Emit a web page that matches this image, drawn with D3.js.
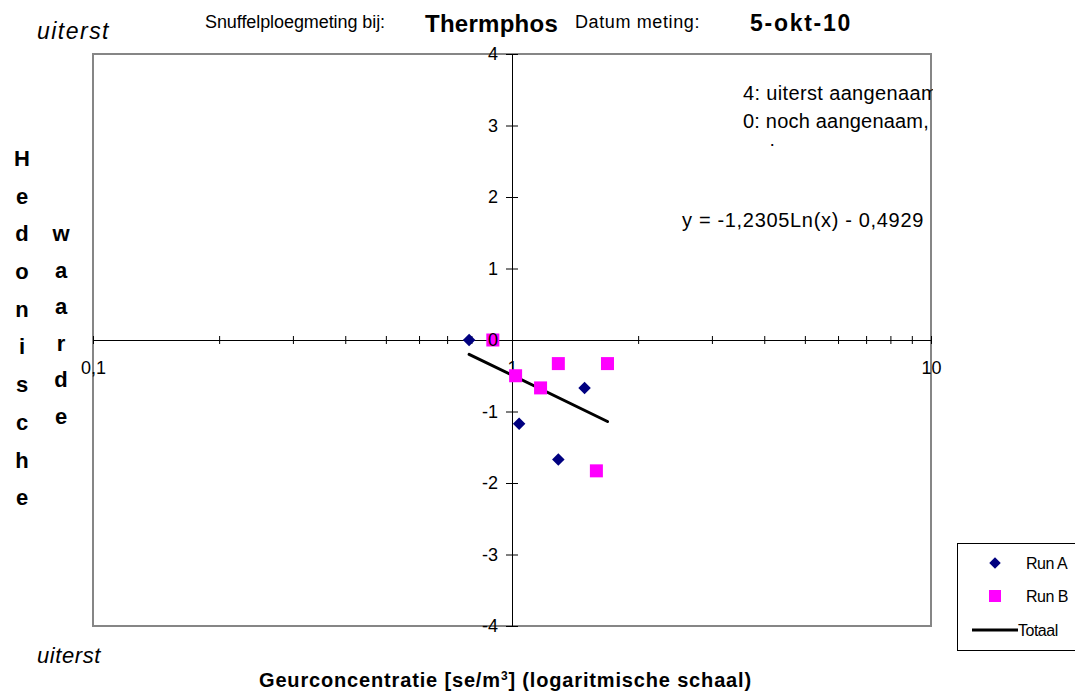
<!DOCTYPE html>
<html>
<head>
<meta charset="utf-8">
<script src="https://cdn.jsdelivr.net/npm/d3@7"></script>
<style>
  body { margin: 0; background: #fff; }
  svg { font-family: "Liberation Sans", Arial, sans-serif; }
</style>
</head>
<body>
<svg id="chart" width="1075" height="694"></svg>
<script>
// DATA
const runAX = [0.79, 1.04, 1.29, 1.49];
const runAY = [0, -1.17, -1.67, -0.67];
const runBX = [0.90, 1.02, 1.17, 1.29, 1.69, 1.59];
const runBY = [0, -0.5, -0.67, -0.33, -0.33, -1.83];
// trendline endpoints (straight on a log-x axis)
const trendX = [0.79, 1.69];
const trendY = [-0.20, -1.14];

const yTicks = [-4, -3, -2, -1, 0, 1, 2, 3, 4];
const xMajor = [0.1, 1, 10];
const xMajorLabels = ["0,1", "1", "10"];
const xMinor = [0.2, 0.3, 0.4, 0.5, 0.6, 0.7, 0.8, 0.9, 2, 3, 4, 5, 6, 7, 8, 9];
const yLabelCol1 = ["H", "e", "d", "o", "n", "i", "s", "c", "h", "e"];
const yLabelCol2 = ["w", "a", "a", "r", "d", "e"];
const legendNames = ["Run A", "Run B", "Totaal"];

var svg = d3.select("#chart");

var plotLeft = 93, plotRight = 931, plotTop = 54, plotBottom = 626;

var x = d3.scaleLog().domain([0.1, 10]).range([plotLeft, plotRight]);
var y = d3.scaleLinear().domain([-4, 4]).range([plotBottom, plotTop]);

// stretch a text to a given width with letter-spacing
function fitWidth(sel, target) {
    let node = sel.node();
    let w = node.getComputedTextLength();
    let n = node.textContent.length;
    if (n > 1) sel.style("letter-spacing", ((target - w) / n) + "px");
    return sel;
}

// plot frame
svg.append("rect")
    .attr("x", plotLeft).attr("y", plotTop)
    .attr("width", plotRight - plotLeft).attr("height", plotBottom - plotTop)
    .attr("fill", "white")
    .attr("stroke", "#868686")
    .attr("stroke-width", 2);

// x axis (crosses at y = 0)
let xAxis = svg.append("g")
    .attr("transform", "translate(0," + y(0) + ")")
    .call(d3.axisBottom(x)
        .tickValues(xMajor.concat(xMinor))
        .tickFormat(d => { let i = xMajor.indexOf(d); return i >= 0 ? xMajorLabels[i] : ""; })
        .tickSizeInner(4).tickSizeOuter(0).tickPadding(17));
xAxis.selectAll(".tick line").attr("y1", -4).attr("y2", 4);
xAxis.select(".domain").attr("stroke", "#000");
xAxis.selectAll("text")
    .style("font-size", "18px")
    .style("font-family", "Liberation Sans, Arial, sans-serif")
    .attr("fill", "#000");

// y axis (crosses at x = 1)
let yAxis = svg.append("g")
    .attr("transform", "translate(" + x(1) + ",0)")
    .call(d3.axisLeft(y)
        .tickValues(yTicks)
        .tickFormat(d => d)
        .tickSizeInner(6).tickSizeOuter(0).tickPadding(8));
yAxis.selectAll(".tick line").attr("x1", 6).attr("x2", -6);
yAxis.select(".domain").attr("stroke", "#000");

// trendline
svg.append("path")
    .datum(trendX.map((d, i) => [d, trendY[i]]))
    .attr("d", d3.line().x(d => x(d[0])).y(d => y(d[1])))
    .attr("stroke", "#000")
    .attr("stroke-width", 3)
    .attr("stroke-linecap", "round")
    .attr("fill", "none");

// Run A diamonds
svg.append("g").selectAll("path")
    .data(runAX.map((d, i) => [d, runAY[i]]))
    .enter().append("path")
    .attr("d", d3.symbol().type(d3.symbolDiamond2).size(100))
    .attr("transform", d => "translate(" + x(d[0]) + "," + y(d[1]) + ")")
    .attr("fill", "#000080");

// Run B squares
svg.append("g").selectAll("rect")
    .data(runBX.map((d, i) => [d, runBY[i]]))
    .enter().append("rect")
    .attr("x", d => x(d[0]) - 6.5)
    .attr("y", d => y(d[1]) - 6.5)
    .attr("width", 13).attr("height", 13)
    .attr("fill", "#ff00ff");

// y tick labels drawn over the markers
svg.append("g").selectAll("text")
    .data(yTicks).enter().append("text")
    .attr("x", x(1) - 14)
    .attr("y", d => y(d))
    .attr("dy", "0.35em")
    .attr("text-anchor", "end")
    .style("font-size", "18px")
    .text(d => d);
yAxis.selectAll("text").remove();

// header texts
fitWidth(svg.append("text").attr("x", 37).attr("y", 39)
    .style("font-size", "23px").style("font-style", "italic").text("uiterst"), 73);
fitWidth(svg.append("text").attr("x", 205).attr("y", 28)
    .style("font-size", "18px").text("Snuffelploegmeting bij:"), 180);
fitWidth(svg.append("text").attr("x", 425).attr("y", 32)
    .style("font-size", "24px").style("font-weight", "bold").text("Thermphos"), 133);
fitWidth(svg.append("text").attr("x", 575).attr("y", 28)
    .style("font-size", "18px").text("Datum meting:"), 125);
fitWidth(svg.append("text").attr("x", 750).attr("y", 31)
    .style("font-size", "23px").style("font-weight", "bold").text("5-okt-10"), 102);

// note box (clipped)
svg.append("clipPath").attr("id", "noteClip")
    .append("rect").attr("x", 700).attr("y", 70).attr("width", 233).attr("height", 76);
let note = svg.append("g").attr("clip-path", "url(#noteClip)");
fitWidth(note.append("text").attr("x", 743).attr("y", 100)
    .style("font-size", "20px").text("4: uiterst aangenaam"), 195);
fitWidth(note.append("text").attr("x", 743).attr("y", 128)
    .style("font-size", "20px").text("0: noch aangenaam,"), 186);
note.append("text").attr("x", 770).attr("y", 159)
    .style("font-size", "20px").text("b");

// equation
fitWidth(svg.append("text").attr("x", 682).attr("y", 227)
    .style("font-size", "20px").text("y = -1,2305Ln(x) - 0,4929"), 242);

// vertical y title
svg.append("g").selectAll("text")
    .data(yLabelCol1).enter().append("text")
    .attr("x", 22).attr("y", (d, i) => 158 + i * 37.7)
    .attr("dy", "0.36em")
    .attr("text-anchor", "middle")
    .style("font-size", "22px").style("font-weight", "bold")
    .text(d => d);
svg.append("g").selectAll("text")
    .data(yLabelCol2).enter().append("text")
    .attr("x", 61).attr("y", (d, i) => 233 + i * 36.6)
    .attr("dy", "0.36em")
    .attr("text-anchor", "middle")
    .style("font-size", "22px").style("font-weight", "bold")
    .text(d => d);

// bottom texts
fitWidth(svg.append("text").attr("x", 37).attr("y", 663)
    .style("font-size", "22px").style("font-style", "italic").text("uiterst"), 64);
let xt = svg.append("text").attr("x", 259).attr("y", 687)
    .style("font-size", "20px").style("font-weight", "bold");
xt.append("tspan").text("Geurconcentratie [se/m");
xt.append("tspan").attr("dy", -7).style("font-size", "12px").text("3");
xt.append("tspan").attr("dy", 7).text("] (logaritmische schaal)");
fitWidth(xt, 493);

// legend
let legend = svg.append("g").attr("class", "legend");
legend.append("rect")
    .attr("x", 957.5).attr("y", 543.5)
    .attr("width", 130).attr("height", 107)
    .attr("fill", "white").attr("stroke", "#000");
let legY = [563, 596, 630];
legend.append("path")
    .attr("d", d3.symbol().type(d3.symbolDiamond2).size(85))
    .attr("transform", "translate(995," + legY[0] + ")")
    .attr("fill", "#000080");
legend.append("rect")
    .attr("x", 989).attr("y", legY[1] - 6).attr("width", 12).attr("height", 12)
    .attr("fill", "#ff00ff");
legend.append("line")
    .attr("x1", 972).attr("x2", 1018).attr("y1", legY[2]).attr("y2", legY[2])
    .attr("stroke", "#000").attr("stroke-width", 3);
legend.selectAll("text.lab")
    .data(legendNames).enter().append("text")
    .attr("class", "lab")
    .attr("x", (d, i) => i == 2 ? 1018 : 1026)
    .attr("y", (d, i) => legY[i])
    .attr("dy", "0.35em")
    .style("font-size", "16px")
    .style("letter-spacing", "-0.5px")
    .text(d => d);
</script>
</body>
</html>
